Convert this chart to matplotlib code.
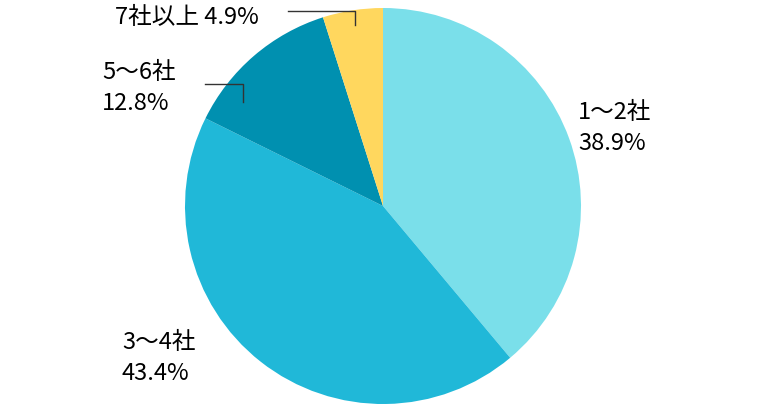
import matplotlib
matplotlib.use('Agg')
import matplotlib.pyplot as plt

plt.rcParams['font.family'] = ['Noto Sans CJK JP', 'DejaVu Sans']

# data
labels = ['1～2社', '3～4社', '5～6社', '7社以上']
shares = [38.9, 43.4, 12.8, 4.9]
colors = ['#7adfea', '#20b8d8', '#0090b0', '#ffd75e']

W, H = 780, 410
fig = plt.figure(figsize=(W / 100, H / 100), dpi=100)

# pie centred at (383, 207) px, radius ~198 px
cx, cy, r = 383, 207, 198
ax = fig.add_axes([(cx - r) / W, 1 - (cy + r) / H, 2 * r / W, 2 * r / H])
ax.pie(shares, colors=colors, startangle=90, counterclock=False,
       wedgeprops=dict(linewidth=0))
ax.set_xlim(-1, 1)
ax.set_ylim(-1, 1)
ax.set_aspect('auto')
ax.axis('off')

def px(x, y):
    return x / W, 1 - y / H

fs = 17
fig.text(*px(578, 128), f'{labels[0]}\n{shares[0]}%', fontsize=fs, va='center', ha='left', linespacing=1.4)
fig.text(*px(122, 358), f'{labels[1]}\n{shares[1]}%', fontsize=fs, va='center', ha='left', linespacing=1.4)
fig.text(*px(102, 88), f'{labels[2]}\n{shares[2]}%', fontsize=fs, va='center', ha='left', linespacing=1.4)
fig.text(*px(115, 17), f'{labels[3]} {shares[3]}%', fontsize=fs, va='center', ha='left')

# leader lines
lc = '#333333'
for xs, ys in [([288, 355, 355], [12, 12, 26]), ([205, 243, 243], [85, 85, 103])]:
    fig.add_artist(plt.Line2D([x / W for x in xs], [1 - y / H for y in ys],
                              color=lc, linewidth=1))

fig.savefig('out.png', dpi=100, facecolor='white')
